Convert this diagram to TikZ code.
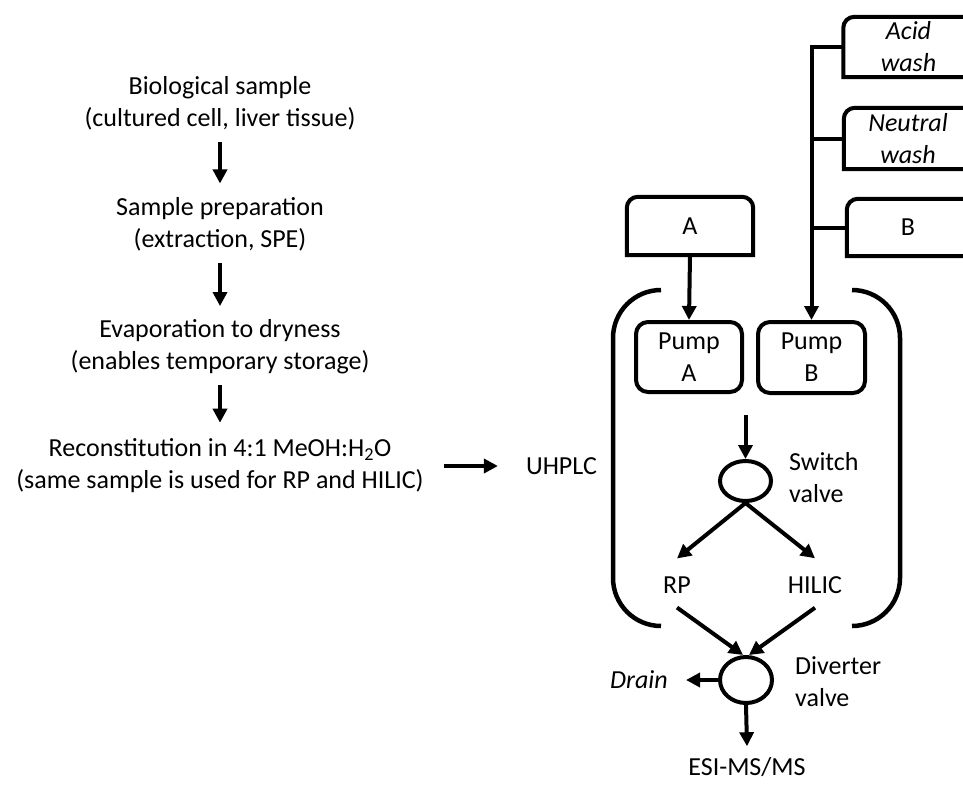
\documentclass[tikz,border=0pt]{standalone}
\usepackage{fontspec}
\setmainfont{Carlito}
\usetikzlibrary{arrows.meta,shapes.geometric}
\newcommand\tboxoutline[2]{%
  \draw[wire] (#1.south west) -- ([yshift=-11pt]#1.north west)
    arc[start angle=180,end angle=270,radius=11]
    -- ([xshift=#2-11pt]#1.north east)
    arc[start angle=270,end angle=360,radius=11]
    -- ([xshift=#2]#1.south east) -- cycle;}
\begin{document}
\begin{tikzpicture}[x=1pt,y=-1pt,
  font=\fontsize{26}{32}\selectfont,
  txt/.style={inner sep=0pt, align=center},
  itxt/.style={inner sep=0pt, align=center, font={\fontsize{26}{32}\selectfont\itshape}},
  arr/.style={line width=4pt, -{Triangle[length=14pt,width=14pt]}},
  wire/.style={line width=4pt},
  tbox/.style={inner sep=0pt, align=center},
  pumpbox/.style={draw, line width=4pt, rounded corners=12pt, inner sep=0pt, align=center},
  valve/.style={draw, ellipse, line width=4pt, inner sep=0pt},
  bracket/.style={line width=4.5pt}]
\fill[white] (0,0) rectangle (963,784);
\useasboundingbox (0,0) rectangle (963,784);
\clip (0,0) rectangle (963,784);

% left column
\node[txt] (bio) at (220,103.5) {Biological sample\\(cultured cell, liver tissue)};
\node[txt] (prep) at (220,224.5) {Sample preparation\\(extraction, SPE)};
\node[txt] (evap) at (220,346.5) {Evaporation to dryness\\(enables temporary storage)};
\node[txt] (recon) at (220,466) {Reconstitution in 4:1 MeOH:H\textsubscript{2}O\\(same sample is used for RP and HILIC)};
\node[txt] (uhplc) at (561.5,466) {UHPLC};

\draw[arr] ([yshift=-11pt]bio.south) -- ([yshift=14pt]prep.north);
\draw[arr] ([yshift=-11pt]prep.south) -- ([yshift=13pt]evap.north);
\draw[arr] ([yshift=-11pt]evap.south) -- ([yshift=16pt]recon.north);
\draw[arr] ([xshift=20pt]recon.east) -- ([xshift=-28pt]uhplc.west);

% reservoirs
\node[tbox, minimum width=126pt, minimum height=58pt] (A) at (690,226) {A};
\node[tbox, minimum width=130pt, minimum height=60pt, font={\fontsize{26}{32}\selectfont\itshape}] (acid) at (908.5,47) {Acid\\wash};
\node[tbox, minimum width=128pt, minimum height=61pt, font={\fontsize{26}{32}\selectfont\itshape}] (neutral) at (908,138.5) {Neutral\\wash};
\node[tbox, minimum width=122pt, minimum height=57pt] (B) at (908,227.5) {B};
\tboxoutline{A}{0pt}
\tboxoutline{acid}{20pt}
\tboxoutline{neutral}{20pt}
\tboxoutline{B}{20pt}

% pumps
\node[pumpbox, minimum width=106pt, minimum height=70pt] (pumpA) at (689,357) {Pump\\A};
\node[pumpbox, minimum width=107pt, minimum height=71pt] (pumpB) at (811.5,357.5) {Pump\\B};

\draw[arr] (A.south) -- (pumpA.north);
\draw[arr] (acid.west) -- (acid.west -| pumpB.north) -- (pumpB.north);
\draw[wire] (neutral.west) -- (neutral.west -| pumpB.north);
\draw[wire] (B.west) -- (B.west -| pumpB.north);

% brackets
\draw[bracket] (661,290) arc[start angle=270,end angle=180,radius=48]
  -- (613,578) arc[start angle=180,end angle=90,radius=48];
\draw[bracket] (852,290) arc[start angle=270,end angle=360,radius=48]
  -- (900,578) arc[start angle=0,end angle=90,radius=48];

% switch valve
\node[valve, minimum width=51pt, minimum height=40pt] (sv) at (745.5,481) {};
\coordinate (svin) at (745.5,415);
\draw[arr] (svin) -- (sv.north);
\node[txt, anchor=west, align=left] (svlab) at (789,478) {Switch\\valve};

\node[txt] (rp) at (677,585) {RP};
\node[txt] (hilic) at (815,585) {HILIC};
\draw[arr] (sv.south) -- ([yshift=18pt]rp.north);
\draw[arr] (sv.south) -- ([yshift=18pt]hilic.north);

% diverter valve
\node[valve, minimum width=52pt, minimum height=46pt] (dv) at (746,680) {};
\draw[arr] ([yshift=-14pt]rp.south) -- ([xshift=-3pt]dv.north);
\draw[arr] ([yshift=-14pt]hilic.south) -- ([xshift=3pt]dv.north);
\node[txt, anchor=west, align=left] (dvlab) at (795,682) {Diverter\\valve};
\node[itxt, anchor=east] (drain) at (668,680) {Drain};
\draw[arr] (dv.west) -- ([xshift=18pt]drain.east);
\node[txt] (esi) at (747,767) {ESI-MS/MS};
\draw[arr] (dv.south) -- ([yshift=11pt]esi.north);
\end{tikzpicture}
\end{document}
